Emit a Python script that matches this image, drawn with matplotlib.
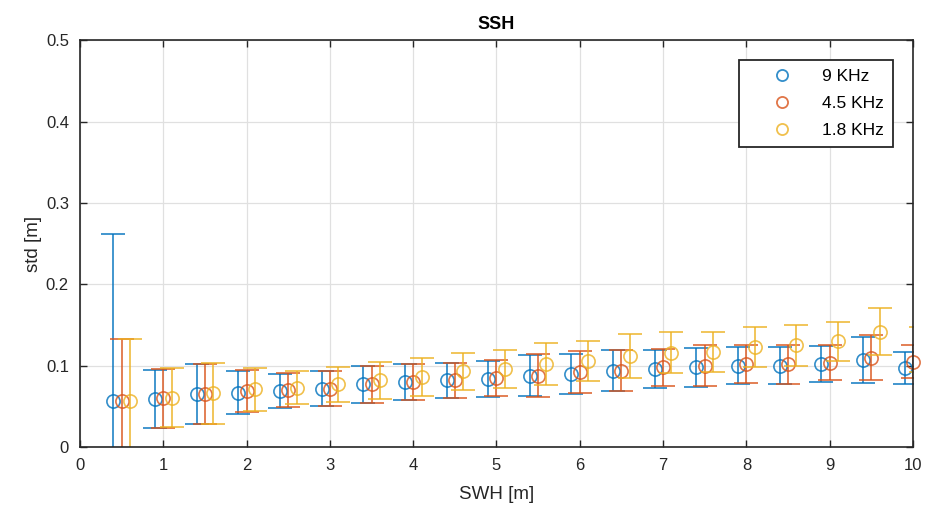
import numpy as np
import matplotlib
matplotlib.use("Agg")
import matplotlib.pyplot as plt

plt.rcParams['font.family'] = ['Liberation Sans', 'DejaVu Sans']

swh = [0.5, 1.0, 1.5, 2.0, 2.5, 3.0, 3.5, 4.0, 4.5, 5.0,
       5.5, 6.0, 6.5, 7.0, 7.5, 8.0, 8.5, 9.0, 9.5, 10.0]

mean_9k = [0.057, 0.059, 0.065, 0.067, 0.069, 0.072, 0.077, 0.080, 0.082, 0.084,
           0.088, 0.090, 0.094, 0.096, 0.098, 0.100, 0.100, 0.102, 0.107, 0.097]
err_9k = [0.205, 0.036, 0.037, 0.026, 0.021, 0.021, 0.023, 0.022, 0.022, 0.022,
          0.025, 0.025, 0.025, 0.023, 0.024, 0.023, 0.023, 0.022, 0.028, 0.020]

mean_45k = [0.057, 0.060, 0.065, 0.069, 0.070, 0.072, 0.077, 0.080, 0.082, 0.085,
            0.088, 0.092, 0.094, 0.098, 0.100, 0.102, 0.102, 0.104, 0.110, 0.105]
err_45k = [0.076, 0.036, 0.037, 0.026, 0.021, 0.021, 0.023, 0.022, 0.022, 0.022,
           0.026, 0.026, 0.025, 0.023, 0.025, 0.023, 0.024, 0.022, 0.028, 0.020]

mean_18k = [0.057, 0.061, 0.066, 0.071, 0.073, 0.077, 0.082, 0.086, 0.093, 0.096,
            0.102, 0.106, 0.112, 0.116, 0.117, 0.123, 0.125, 0.130, 0.142, 0.120]
err_18k = [0.076, 0.036, 0.037, 0.026, 0.020, 0.021, 0.023, 0.023, 0.023, 0.023,
           0.026, 0.025, 0.027, 0.025, 0.025, 0.025, 0.025, 0.024, 0.029, 0.028]

labels = ['9 KHz', '4.5 KHz', '1.8 KHz']
offsets = [-0.1, 0.0, 0.1]
colors = ['#0072BD', '#D95319', '#EDB120']

fig = plt.figure(figsize=(9.25, 5.14), dpi=100)
ax = fig.add_axes([0.0865, 0.130, 0.9005, 0.792])

xmax = 10.0
series = [(mean_9k, err_9k), (mean_45k, err_45k), (mean_18k, err_18k)]
for (m, e), off, c, lab in zip(series, offsets, colors, labels):
    x = np.array(swh) + off
    m = np.array(m)
    ax.errorbar(x, m, yerr=e, fmt='none', ecolor=c, alpha=0.8,
                elinewidth=1.3, capsize=8.3, capthick=1.3)
    inside = x <= xmax + 1e-9
    ax.plot(x[inside], m[inside], linestyle='none', marker='o',
            markerfacecolor='none', markeredgecolor=c, markersize=9.5,
            markeredgewidth=1.2, alpha=0.8, clip_on=False)

ax.set_xlim(0, xmax)
ax.set_ylim(0, 0.5)
ax.set_xticks(np.arange(0, 11, 1))
ax.set_yticks(np.arange(0, 0.51, 0.1))
ax.set_yticklabels(['0', '0.1', '0.2', '0.3', '0.4', '0.5'])
ax.grid(True, color='#e0e0e0', linewidth=0.9)
ax.set_axisbelow(True)
for s in ax.spines.values():
    s.set_color('#262626')
    s.set_linewidth(1.2)
ax.tick_params(direction='in', top=True, right=True, length=5, width=1,
               colors='#262626', labelsize=12, pad=8)
ax.set_xlabel('SWH [m]', fontsize=13.5, color='#262626', labelpad=9)
ax.set_ylabel('std [m]', fontsize=13.5, color='#262626', labelpad=3)
ax.set_title('SSH', fontsize=13, fontweight='bold', color='#000000', pad=8)

leg_handles = [plt.Line2D([], [], linestyle='none', marker='o', markersize=8,
                          markerfacecolor='none', markeredgecolor=c,
                          markeredgewidth=1.3, alpha=0.8) for c in colors]
leg = ax.legend(leg_handles, labels, loc='upper right',
                bbox_to_anchor=(0.976, 0.951), borderaxespad=0,
                fontsize=12.5, frameon=True,
                fancybox=False, edgecolor='#262626', framealpha=1,
                handletextpad=0.3, borderpad=0.5, labelspacing=0.7,
                handlelength=4.0)
leg.get_frame().set_linewidth(1.3)

fig.savefig('out.png', dpi=100)
